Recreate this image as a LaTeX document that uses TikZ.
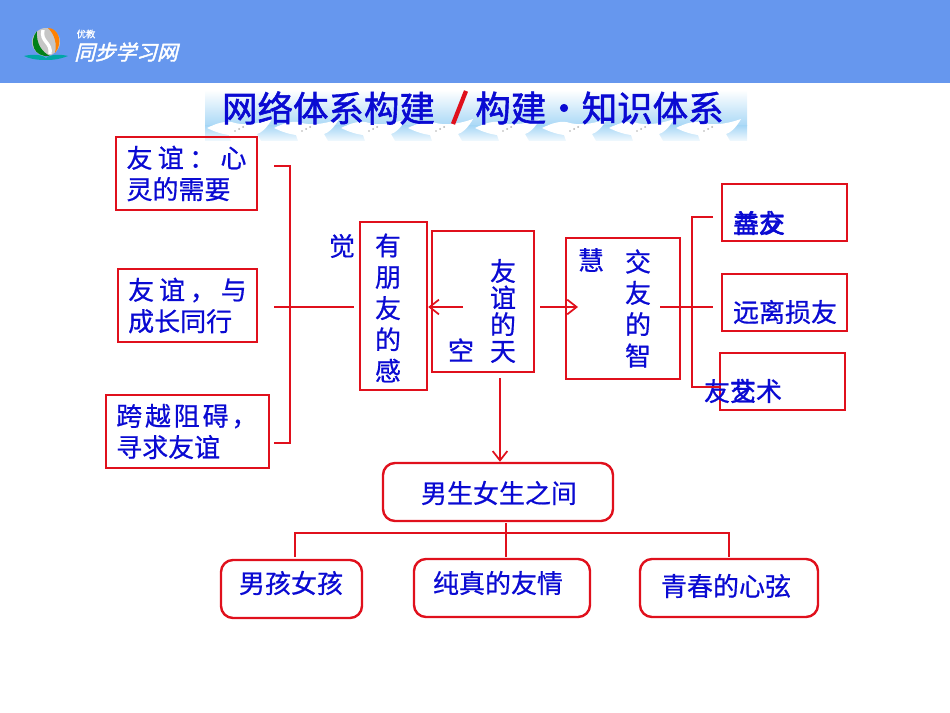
\documentclass[tikz,border=0pt]{standalone}
\usepackage{fontspec}
\setmainfont[FakeBold=0.6]{Noto Sans CJK SC}
\newfontfamily\logofont[FakeSlant=0.25,FakeBold=2]{Noto Sans CJK SC}
\newfontfamily\titlefont[FakeBold=1.6]{Noto Sans CJK SC}
\usetikzlibrary{arrows.meta}
\definecolor{headerblue}{HTML}{6697EE}
\definecolor{boxred}{HTML}{E0101C}
\definecolor{textblue}{HTML}{0A0AD2}
\definecolor{cloudblue}{HTML}{A9D8F6}
\tikzset{
  redbox/.style 2 args={draw=boxred, line width=1.8pt, minimum width=#1*0.75pt, minimum height=#2*0.75pt, inner sep=0pt, text=textblue, font=\fontsize{19.5}{23.5}\selectfont, align=left},
  roundbox/.style 2 args={redbox={#1}{#2}, rounded corners=9pt},
  bluetext/.style={text=textblue, font=\fontsize{19.5}{23.5}\selectfont, inner sep=0pt},
  titletext/.style={text=textblue, font=\titlefont\fontsize{26.6}{30}\selectfont, inner sep=0pt},
  redline/.style={draw=boxred, line width=1.5pt},
  redarrow/.style={redline, -{Straight Barb[length=7pt,width=11pt,line width=1.3pt]}}
}
\begin{document}
\begin{tikzpicture}[x=0.75pt, y=-0.75pt]
\useasboundingbox (0,0) rectangle (950,713);
\fill[headerblue] (0,0) rectangle (950,83); % header
% logo
\fill[gray!45] (46,42) circle (14);
\fill[green!50!black!80!teal] (37,31) .. controls (28,42) and (34,58) .. (50,56) .. controls (42,52) and (36,44) .. (37,31);
\fill[orange] (48,28) .. controls (58,28) and (64,42) .. (55,53) .. controls (57,44) and (55,35) .. (48,28);
\draw[white, line width=2.5pt] (43,30) .. controls (40,42) and (52,42) .. (50,54);
\fill[teal!70!cyan] (24,56) .. controls (36,53) and (44,56) .. (46,58) .. controls (48,56) and (56,53) .. (68,56) .. controls (58,60) and (50,60) .. (46,60) .. controls (42,60) and (32,60) .. (24,56);
\node[text=white, font=\fontsize{7}{8}\selectfont, inner sep=0pt] (logotop) at (86,34) {优教};
\node[text=white, font=\logofont\fontsize{15.5}{18}\selectfont, inner sep=0pt] (logoname) at (126,52) {同步学习网};
% banner
\shade[top color=white, bottom color=cloudblue] (205,90) rectangle (747,126);
\shade[top color=cloudblue, bottom color=cloudblue!15] (205,126) rectangle (747,141);
\foreach \i in {0,...,7} {
  \begin{scope}[shift={(205+67*\i,0)}]
    \fill[white] (2,128) .. controls (12,123) and (22,120) .. (30,123) .. controls (38,125) and (50,125) .. (67,119) .. controls (62,128) and (56,133) .. (52,134) -- (56,141) -- (26,141) -- (24,135) .. controls (16,134) and (8,131) .. (2,128);
    \fill[gray!60] (30,131) circle (0.8) (34,129) circle (1) (38,127) circle (1);
  \end{scope}
}
\node[titletext] (titleleft) at (328.5,108) {网络体系构建};
\draw[line width=3.2pt, boxred] (466,91) -- (453,124); % slash
\node[titletext] (titleright) at (599.5,108) {构建・知识体系};
% left boxes
\node[redbox={141}{73}] (heart) at (186.5,173.5) {\makebox[90pt][s]{友\hfil 谊\hfil ：\hfil 心}\\灵的需要};
\node[redbox={139}{73}] (grow) at (187.5,305.5) {\makebox[89pt][s]{友\hfil 谊\hfil ，\hfil 与}\\成长同行};
\node[redbox={163}{73}] (cross) at (187.5,431.5) {\makebox[107pt][l]{\makebox[106pt][s]{跨\hfil 越\hfil 阻\hfil 碍\hfil ，}}\\寻求友谊};
% middle boxes
\node[redbox={67}{168}] (feel) at (393.5,306) {};
\node[redbox={102}{141}] (sky) at (483,301.5) {};
\node[redbox={114}{141}] (wise) at (623,308.5) {};
\node[bluetext, align=center] (feeltext) at (388,308) {有\\朋\\友\\的\\感};
\node[bluetext] (feelend) at (342,246) {觉};
\node[bluetext, align=center] (skytext) at (503,311) {友\\[-3.5pt]谊\\[-3.5pt]的\\[-3.5pt]天};
\node[bluetext] (skyend) at (461,350) {空};
\node[bluetext, align=center] (wisetext) at (638,308.5) {交\\友\\的\\智};
\node[bluetext] (wiseend) at (591,260) {慧};
% right boxes
\node[redbox={125}{57}] (good) at (784.5,212.5) {};
\node[redbox={125}{57}] (away) at (784.5,302.5) {};
\node[redbox={125}{57}] (art) at (782.5,381.5) {};
\node[bluetext] (goodone) at (759,223) {善交};
\node[bluetext] (goodtwo) at (759,223) {益友};
\node[bluetext] (awaytext) at (785,312) {远离损友};
\node[bluetext] (artone) at (730,391) {友交};
\node[bluetext] (arttwo) at (756,391) {艺术};
% bottom boxes
\node[roundbox={230}{58}] (between) at (498,492) {};
\node[bluetext] (betweentext) at (499,493) {男生女生之间};
\node[roundbox={141}{58}] (boys) at (291.5,589) {};
\node[bluetext] (boystext) at (291,583) {男孩女孩};
\node[roundbox={176}{58}] (pure) at (502,588) {};
\node[bluetext] (puretext) at (498,583) {纯真的友情};
\node[roundbox={178}{58}] (youth) at (729,588) {};
\node[bluetext] (youthtext) at (726,586) {青春的心弦};
% connectors
\coordinate (lefttop) at (274,166);
\coordinate (leftbottom) at (274,443);
\coordinate (leftmid) at (274,307);
\coordinate (leftend) at (354,307);
\coordinate (leftbar) at (290,307);
\draw[redline] (lefttop) -- (leftbar |- lefttop) -- (leftbar |- leftbottom) -- (leftbottom);
\draw[redline] (leftmid) -- (leftend);
\coordinate (skyleft) at (463,307);
\coordinate (skyright) at (540,307);
\coordinate (skydown) at (500,378);
\coordinate (wisein) at (578,307);
\coordinate (wisestart) at (660,307);
\coordinate (rightbar) at (692,307);
\coordinate (righttop) at (713,217);
\coordinate (rightmid) at (713,307);
\coordinate (rightbottom) at (720,387);
\draw[redarrow] (skyleft) -- (feel.east |- skyleft);
\draw[redarrow] (skyright) -- (wisein);
\draw[redarrow] (skydown) -- (skydown |- between.north);
\draw[redline] (righttop) -- (rightbar |- righttop) -- (rightbar |- rightbottom) -- (rightbottom);
\draw[redline] (wisestart) -- (rightmid);
\coordinate (treetop) at (506,523);
\coordinate (treebar) at (506,533);
\coordinate (treeleft) at (295,557);
\coordinate (treemid) at (506,557);
\coordinate (treeright) at (729,557);
\draw[redline] (treetop) -- (treemid);
\draw[redline] (treeleft) -- (treeleft |- treebar) -- (treeright |- treebar) -- (treeright);
\end{tikzpicture}
\end{document}
